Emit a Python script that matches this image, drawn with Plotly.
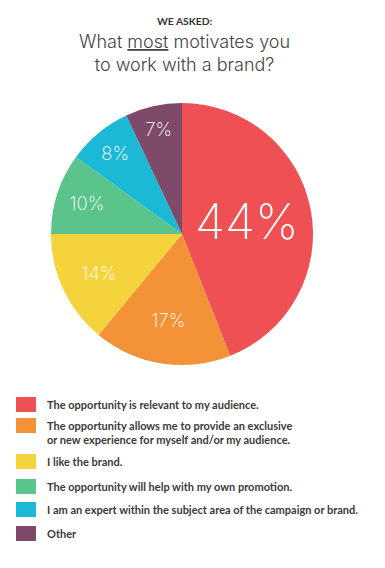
import plotly.graph_objects as go

labels = [
    "The opportunity is relevant to my audience.",
    "The opportunity allows me to provide an exclusive<br>or new experience for myself and/or my audience.",
    "I like the brand.",
    "The opportunity will help with my own promotion.",
    "I am an expert within the subject area of the campaign or brand.",
    "Other",
]
values = [44, 17, 14, 10, 8, 7]
colors = ["#EF5054", "#F39237", "#F5D33C", "#5BC48A", "#1BB9D5", "#7D4A6A"]
text_sizes = [49, 18.5, 18.5, 18.5, 18.5, 18.5]

W, H = 385, 568

fig = go.Figure()
fig.add_trace(go.Pie(
    labels=labels,
    values=values,
    sort=False,
    direction="clockwise",
    rotation=0,
    marker=dict(colors=colors, line=dict(width=0)),
    texttemplate="%{value}%",
    textposition="inside",
    insidetextorientation="horizontal",
    textfont=dict(family="Inter", size=text_sizes, color="white", weight=200),
    domain=dict(x=[51 / W, 313 / W], y=[1 - 365 / H, 1 - 103 / H]),
    showlegend=False,
    hoverinfo="label+percent",
))

# Title
fig.add_annotation(text="<b>WE ASKED:</b>", x=0.48, y=1 - 21 / H, xref="paper", yref="paper",
                   yanchor="middle", showarrow=False,
                   font=dict(family="Lato", size=10.3, color="#333333"))
fig.add_annotation(text="What <u>most</u> motivates you<br>to work with a brand?", x=0.478, y=1 - 53.5 / H,
                   xref="paper", yref="paper", yanchor="middle", showarrow=False,
                   font=dict(family="Inter", size=18, color="#444444", weight=300))

# Custom legend
row_y = [404, 432, 461, 486, 509, 533]
for lab, col, yy in zip(labels, colors, row_y):
    n_lines = lab.count("<br>") + 1
    sw_top = yy - 7 - (n_lines - 1) * 7
    fig.add_shape(type="rect", xref="paper", yref="paper",
                  x0=16 / W, x1=36 / W, y0=1 - (sw_top + 15) / H, y1=1 - sw_top / H,
                  fillcolor=col, line=dict(width=0))
    fig.add_annotation(text="<b>" + lab.replace("<br>", "</b><br><b>") + "</b>", x=45 / W, y=1 - yy / H,
                       xref="paper", yref="paper", xanchor="left", yanchor="middle", align="left",
                       showarrow=False, font=dict(family="Lato", size=11, color="#3a3a3a"))

fig.update_layout(width=W, height=H, margin=dict(l=0, r=0, t=0, b=0),
                  paper_bgcolor="white", plot_bgcolor="white")
fig.write_html("out.html", post_script="document.body.style.margin='0';",
               config={"displayModeBar": False})
